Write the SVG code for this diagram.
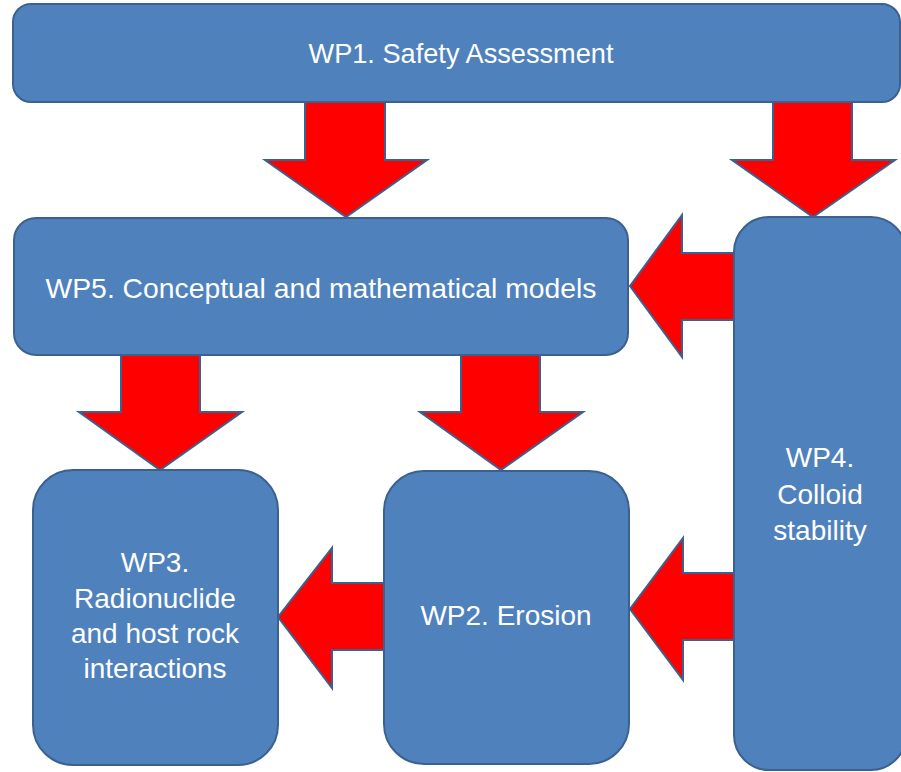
<svg xmlns="http://www.w3.org/2000/svg" width="901" height="772" viewBox="0 0 901 772">
  <style>
    .box { fill: #4F81BD; stroke: #3A6190; stroke-width: 2; }
    .arrow { fill: #FF0000; stroke: #3A6190; stroke-width: 2; stroke-linejoin: miter; }
    .lbl { fill: #FFFFFF; font-family: "Liberation Sans", Arial, sans-serif; font-size: 28px; text-anchor: middle; }
  </style>
  <rect width="901" height="772" fill="#FFFFFF"/>
  <g id="connectors">
    <polygon class="arrow" points="305,102 385,102 385,160 427,160 346,217 265,160 305,160"/>
    <polygon class="arrow" points="773,102 852,102 852,160 895,160 813,217 732,160 773,160"/>
    <polygon class="arrow" points="734,253 682,253 682,215 630,286 682,357 682,320 734,320"/>
    <polygon class="arrow" points="121,355 200,355 200,412 242,412 160,470 79,412 121,412"/>
    <polygon class="arrow" points="461,355 540,355 540,412 583,412 501,470 420,412 461,412"/>
    <polygon class="arrow" points="384,583 332,583 332,548 278,617 332,688 332,650 384,650"/>
    <polygon class="arrow" points="734,573 683,573 683,538 630,609 683,680 683,640 734,640"/>
  </g>
  <g id="wp1">
    <rect class="box" x="13" y="4" width="887" height="98" rx="18" ry="18"/>
    <text class="lbl" x="461" y="63" textLength="305" lengthAdjust="spacingAndGlyphs">WP1. Safety Assessment</text>
  </g>
  <g id="wp5">
    <rect class="box" x="14" y="218" width="614" height="137" rx="22" ry="22"/>
    <text class="lbl" x="321" y="298" textLength="551" lengthAdjust="spacingAndGlyphs">WP5. Conceptual and mathematical models</text>
  </g>
  <g id="wp3">
    <rect class="box" x="33" y="470" width="245" height="295" rx="40" ry="40"/>
    <text class="lbl" x="155" y="572">WP3.</text>
    <text class="lbl" x="155" y="608">Radionuclide</text>
    <text class="lbl" x="155" y="643">and host rock</text>
    <text class="lbl" x="155" y="678">interactions</text>
  </g>
  <g id="wp2">
    <rect class="box" x="384" y="471" width="245" height="293" rx="40" ry="40"/>
    <text class="lbl" x="506" y="625">WP2. Erosion</text>
  </g>
  <g id="wp4">
    <rect class="box" x="734" y="217" width="172" height="553" rx="35" ry="35"/>
    <text class="lbl" x="820" y="467">WP4.</text>
    <text class="lbl" x="820" y="504">Colloid</text>
    <text class="lbl" x="820" y="540">stability</text>
  </g>
</svg>
